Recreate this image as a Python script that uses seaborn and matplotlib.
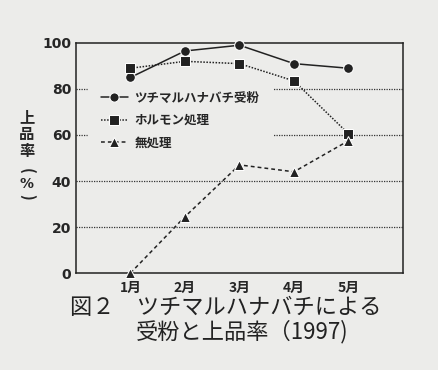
import pandas as pd
import matplotlib
matplotlib.use("Agg")
from matplotlib import pyplot as plt
import seaborn as sns

months = [1, 2, 3, 4, 5]
month_labels = ['1月', '2月', '3月', '4月', '5月']
bee = [85, 96.5, 99, 91, 89]
hormone = [89, 92, 91, 83.5, 60.5]
untreated = [0, 24.5, 47, 44, 57.5]
names = ['ツチマルハナバチ受粉', 'ホルモン処理', '無処理']

sns.set_style("white")
plt.rcParams['font.family'] = ['Noto Sans CJK JP', 'DejaVu Sans']

bg = '#ececea'
fig = plt.figure(figsize=(4.39, 3.70), dpi=100, facecolor=bg)
ax = fig.add_axes([0.173, 0.262, 0.745, 0.622], facecolor=bg)

for y in [20, 40, 60, 80]:
    ax.axhline(y, color='#333333', lw=0.9, ls=(0, (1, 1)), zorder=1)

df = pd.DataFrame({'month': months * 3,
                   'value': bee + hormone + untreated,
                   'group': [names[0]] * 5 + [names[1]] * 5 + [names[2]] * 5})
sns.lineplot(data=df, x='month', y='value', hue='group', style='group',
             markers={names[0]: 'o', names[1]: 's', names[2]: '^'},
             dashes={names[0]: '', names[1]: (1, 1), names[2]: (2.5, 2)},
             palette=['#222222'] * 3, markersize=7, lw=1.1, ax=ax, zorder=3,
             clip_on=False)

ax.set_xlim(0, 6)
ax.set_ylim(0, 100)
ax.set_xticks(months)
ax.set_xticklabels(month_labels, fontsize=10, fontweight='bold')
ax.set_yticks([0, 20, 40, 60, 80, 100])
ax.set_yticks(range(10, 100, 20), minor=True)
ax.set_yticklabels(['0', '20', '40', '60', '80', '100'], fontsize=10, fontweight='bold',
                   family='DejaVu Sans')
ax.tick_params(axis='both', which='both', direction='in', length=4, width=1, color='#222222')
ax.tick_params(axis='x', pad=6)
for s in ax.spines.values():
    s.set_color('#222222')
    s.set_linewidth(1.1)
ax.set_xlabel('')
ax.set_ylabel('')

leg = ax.legend(loc='upper left', bbox_to_anchor=(0.06, 0.81), frameon=True,
                fontsize=9, handlelength=2.2, handletextpad=0.5, labelspacing=0.75,
                borderpad=0.4, borderaxespad=0.0, markerscale=0.95)
leg.get_frame().set_facecolor(bg)
leg.get_frame().set_edgecolor(bg)
leg.get_frame().set_alpha(1)
leg.get_frame().set_boxstyle('square', pad=0.6)
leg.set_zorder(2)
for t in leg.get_texts():
    t.set_fontweight('bold')

for ch, yp in [('上', 117), ('品', 134), ('率', 151)]:
    fig.text(27 / 439, 1 - yp / 370, ch, ha='center', va='center',
             fontsize=11, fontweight='bold')
fig.text(27 / 439, 1 - 171 / 370, '(', ha='center', va='center', rotation=-90,
         rotation_mode='anchor', fontsize=11, fontweight='bold')
fig.text(27 / 439, 1 - 184 / 370, '%', ha='center', va='center',
         fontsize=10, fontweight='bold', family='DejaVu Sans')
fig.text(27 / 439, 1 - 197 / 370, ')', ha='center', va='center', rotation=-90,
         rotation_mode='anchor', fontsize=11, fontweight='bold')

fig.text(0.16, 0.168, '図２　ツチマルハナバチによる', fontsize=16, ha='left', va='center',
         color='#222222')
fig.text(0.31, 0.105, '受粉と上品率（1997)', fontsize=16, ha='left', va='center',
         color='#222222')

fig.savefig('out.png', dpi=100, facecolor=bg)
